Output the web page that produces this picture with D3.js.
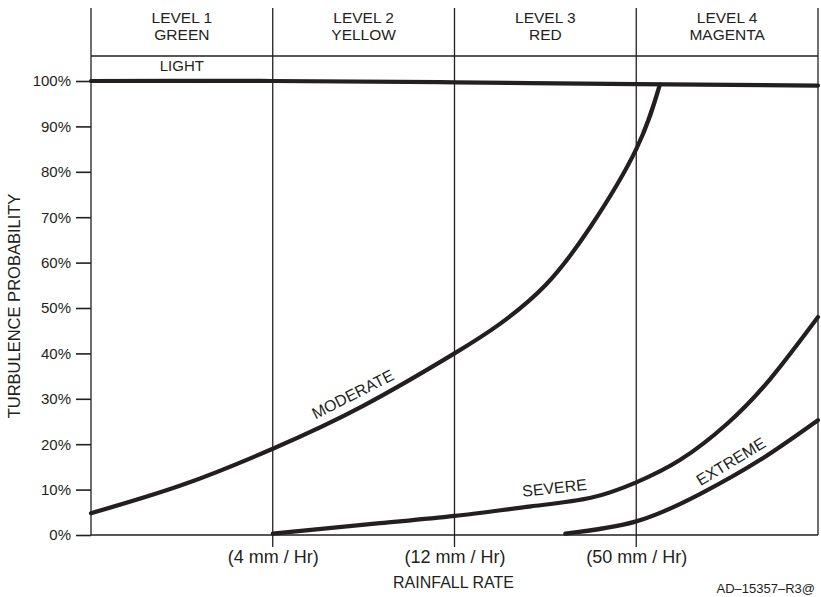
<!DOCTYPE html>
<html>
<head>
<meta charset="utf-8">
<script src="https://cdn.jsdelivr.net/npm/d3@7"></script>
<style>
  body { margin: 0; background: #fff; }
  svg { font-family: "Liberation Sans", Arial, sans-serif; }
</style>
</head>
<body>
<svg width="821" height="597"></svg>
<script>
// ---- Dados (nível de chuva 0..4 no eixo X, probabilidade % no eixo Y)
const levels = ["LEVEL 1", "LEVEL 2", "LEVEL 3", "LEVEL 4"];
const levelColors = ["GREEN", "YELLOW", "RED", "MAGENTA"];
const rainTicks = [1, 2, 3];
const rainLabels = ["(4 mm / Hr)", "(12 mm / Hr)", "(50 mm / Hr)"];
const yTicks = [0, 10, 20, 30, 40, 50, 60, 70, 80, 90, 100];

const lightX = [0, 1, 2, 3, 4];
const lightY = [100, 100, 99.7, 99.3, 99.0];

const moderateX = [0, 0.5, 1, 1.5, 2, 2.25, 2.5, 2.75, 3, 3.13];
const moderateY = [4.8, 11, 19, 28.5, 40, 46.5, 55, 68, 85, 99.2];

const severeX = [1, 1.59, 2, 2.42, 2.75, 3, 3.24, 3.5, 3.74, 4];
const severeY = [0.3, 2.6, 4.2, 6.3, 8.2, 11.6, 16.5, 24.5, 34.5, 48];

const extremeX = [2.61, 3, 3.35, 3.68, 4];
const extremeY = [0.3, 3, 9, 16.5, 25.3];

// rótulos das curvas: [x nível, y %, ângulo]
const curveLabels = [
  { text: "MODERATE", x: 1.44, y: 31, angle: -27 },
  { text: "SEVERE", x: 2.55, y: 10.4, angle: -6 },
  { text: "EXTREME", x: 3.52, y: 16.2, angle: -31 }
];

const svg = d3.select('svg');
const margens = { left: 91, right: 3, top: 81, bottom: 62 };
const innerWidth = 821 - margens.left - margens.right;   // 727
const innerHeight = 597 - margens.top - margens.bottom;  // 454

const g = svg.append('g')
  .attr('transform', `translate(${margens.left}, ${margens.top})`);

const mapX = d3.scaleLinear().domain([0, 4]).range([0, innerWidth]);
const mapY = d3.scaleLinear().domain([0, 100]).range([innerHeight, 0]);

const ink = '#231f20';
const fonte = '"Liberation Sans", Arial, sans-serif';
const headerTop = 8 - margens.top;
const headerLine = 56 - margens.top;

// ---- Grade / cabeçalho
[0, 1, 2, 3, 4].forEach(i => {
  g.append('line')
    .attr('x1', mapX(i)).attr('x2', mapX(i))
    .attr('y1', headerTop)
    .attr('y2', (i === 0 || i === 4) ? innerHeight : innerHeight + 12)
    .attr('stroke', ink).attr('stroke-width', 1.3);
});
g.append('line')
  .attr('x1', 0).attr('x2', innerWidth)
  .attr('y1', headerLine).attr('y2', headerLine)
  .attr('stroke', ink).attr('stroke-width', 1.3);
g.append('line')
  .attr('x1', 0).attr('x2', innerWidth)
  .attr('y1', innerHeight).attr('y2', innerHeight)
  .attr('stroke', ink).attr('stroke-width', 1.3);

levels.forEach((lv, i) => {
  const cx = mapX(i + 0.5);
  g.append('text').attr('x', cx).attr('y', 22.5 - margens.top)
    .attr('text-anchor', 'middle').attr('font-size', 15.5).attr('fill', ink).text(lv);
  g.append('text').attr('x', cx).attr('y', 39.5 - margens.top)
    .attr('text-anchor', 'middle').attr('font-size', 15.5).attr('fill', ink).text(levelColors[i]);
});
g.append('text').attr('x', mapX(0.5)).attr('y', 71 - margens.top)
  .attr('text-anchor', 'middle').attr('font-size', 15).attr('fill', ink).text('LIGHT');

// ---- Eixo Y
const yAxis = d3.axisLeft(mapY).tickValues(yTicks).tickSize(15).tickPadding(5)
  .tickFormat(d => d + '%');
g.append('g').call(yAxis)
  .call(a => a.select('.domain').remove())
  .call(a => a.selectAll('line').attr('stroke', ink).attr('stroke-width', 1.6))
  .call(a => a.selectAll('text').attr('font-size', 15).attr('fill', ink)
    .attr('font-family', fonte));

g.append('text')
  .attr('transform', `translate(${20 - margens.left}, ${306 - margens.top}) rotate(-90)`)
  .attr('text-anchor', 'middle').attr('font-size', 16.5).attr('fill', ink)
  .text('TURBULENCE PROBABILITY');

// ---- Eixo X
const xAxis = d3.axisBottom(mapX).tickValues(rainTicks).tickSize(0).tickPadding(15)
  .tickFormat((d, i) => rainLabels[i]);
g.append('g').attr('transform', `translate(0, ${innerHeight})`).call(xAxis)
  .call(a => a.select('.domain').remove())
  .call(a => a.selectAll('text').attr('font-size', 18).attr('fill', ink)
    .attr('font-family', fonte));

g.append('text').attr('x', mapX(2) - 1).attr('y', 588 - margens.top)
  .attr('text-anchor', 'middle').attr('font-size', 16).attr('fill', ink).text('RAINFALL RATE');

svg.append('text').attr('x', 815).attr('y', 593)
  .attr('text-anchor', 'end').attr('font-size', 13).attr('fill', ink).text('AD–15357–R3@');

// ---- Curvas
const line = d3.line()
  .x(d => mapX(d[0]))
  .y(d => mapY(d[1]))
  .curve(d3.curveNatural);

const series = [
  [lightX, lightY],
  [moderateX, moderateY],
  [severeX, severeY],
  [extremeX, extremeY]
];

g.selectAll('path.curve')
  .data(series.map(([xs, ys]) => xs.map((x, i) => [x, ys[i]])))
  .join('path')
  .attr('class', 'curve')
  .attr('d', line)
  .attr('fill', 'none')
  .attr('stroke', ink)
  .attr('stroke-width', 4.2)
  .attr('stroke-linecap', 'round');

g.selectAll('text.clabel')
  .data(curveLabels)
  .join('text')
  .attr('class', 'clabel')
  .attr('transform', d => `translate(${mapX(d.x)}, ${mapY(d.y)}) rotate(${d.angle})`)
  .attr('text-anchor', 'middle')
  .attr('dy', '0.35em')
  .attr('font-size', 16)
  .attr('fill', ink)
  .text(d => d.text);
</script>
</body>
</html>
